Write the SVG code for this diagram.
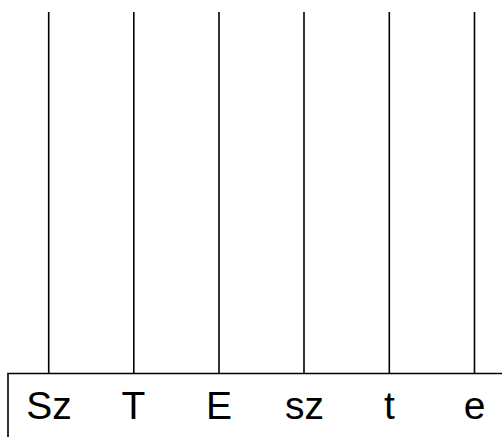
<svg xmlns="http://www.w3.org/2000/svg" width="502" height="437" viewBox="0 0 502 437">
<style>
.ln{stroke:#000;stroke-width:1.6;fill:none}
.lb{font-family:"Liberation Sans",Arial,sans-serif;font-size:39px;fill:#000;text-anchor:middle}
</style>
<rect width="502" height="437" fill="#fff"/>
<g id="connectors">
<line class="ln" x1="48.7" y1="12" x2="48.7" y2="373.5"/>
<line class="ln" x1="133.8" y1="12" x2="133.8" y2="373.5"/>
<line class="ln" x1="219" y1="12" x2="219" y2="373.5"/>
<line class="ln" x1="304" y1="12" x2="304" y2="373.5"/>
<line class="ln" x1="389.3" y1="12" x2="389.3" y2="373.5"/>
<line class="ln" x1="474.5" y1="12" x2="474.5" y2="373.5"/>
</g>
<g id="box">
<polyline class="ln" points="8,437 8,373.5 502,373.5"/>
</g>
<g id="labels">
<text class="lb" x="49" y="419">Sz</text>
<text class="lb" x="133.5" y="419">T</text>
<text class="lb" x="219" y="419">E</text>
<text class="lb" x="304.5" y="419">sz</text>
<text class="lb" x="389.5" y="419">t</text>
<text class="lb" x="474.5" y="419">e</text>
</g>
</svg>
